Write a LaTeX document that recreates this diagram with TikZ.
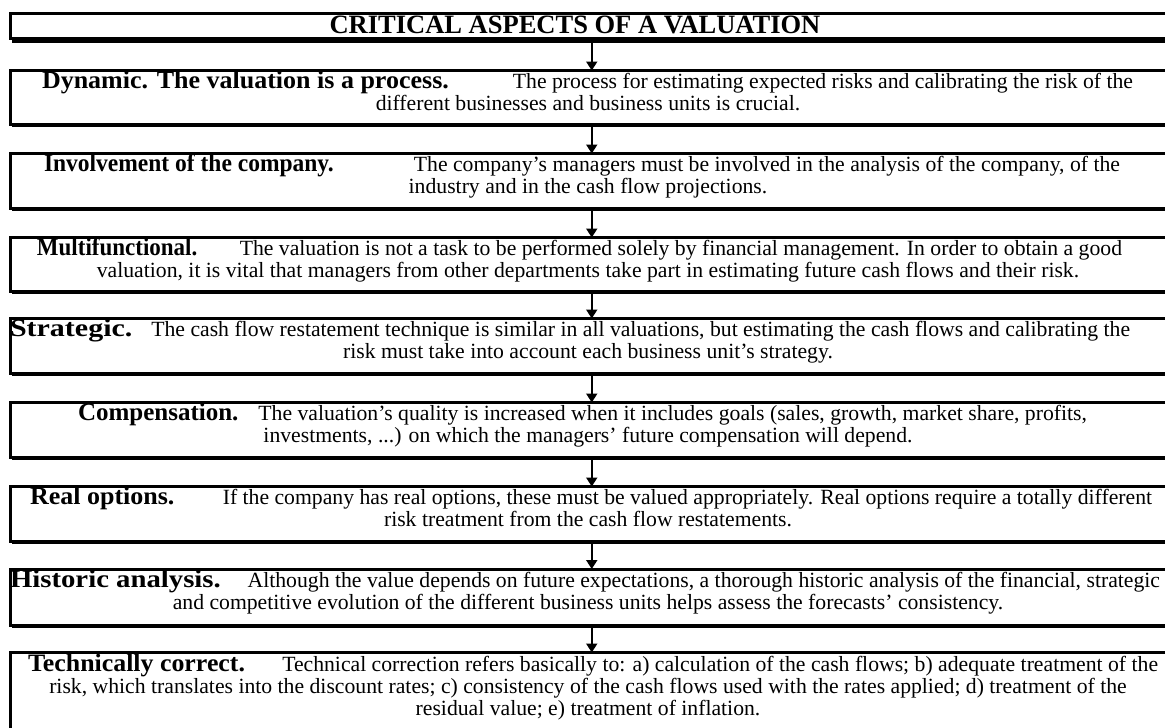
\documentclass[tikz,border=0pt]{standalone}
\usepackage{fontspec}
\usepackage{graphicx}
\setmainfont{Liberation Serif}
\usetikzlibrary{arrows.meta,shadows}
\newcommand\hd[2]{\scalebox{#1}[1]{\fontsize{25}{22}\selectfont\bfseries #2}}
\newcommand\lineone[5]{\makebox[1140pt][l]{\rule{0pt}{19pt}\hspace{#1}\hd{#2}{#3}\hfill #4\hspace{#5}}}
\begin{document}
\begin{tikzpicture}[x=1pt,y=-1pt,
  box/.style={draw, line width=3pt, fill=white, outer sep=0pt, minimum width=1162.5pt,
    anchor=north west, inner sep=0pt,
    general shadow={fill=black, shadow xshift=1.5pt, shadow yshift=-2.5pt}},
  titlebox/.style={box, general shadow={fill=black, shadow xshift=1.5pt, shadow yshift=-4.5pt}},
  txt/.style={anchor=north, inner sep=0pt, align=center, font=\fontsize{21.7}{22}\selectfont},
  conn/.style={line width=2pt, -{Triangle[width=11pt,length=9pt]}}
]
\useasboundingbox (0,0) rectangle (1165,728);
\clip (0,0) rectangle (1165,728);

\node[titlebox, minimum height=25pt] (b0) at (10.5,13.5) {};
\node[box, minimum height=54pt] (b1) at (10.5,70.5) {};
\node[box, minimum height=55pt] (b2) at (10.5,153.5) {};
\node[box, minimum height=53.5pt] (b3) at (10.5,237.5) {};
\node[box, minimum height=54.5pt] (b4) at (10.5,318.5) {};
\node[box, minimum height=54.5pt] (b5) at (10.5,402.5) {};
\node[box, minimum height=54.5pt] (b6) at (10.5,486.5) {};
\node[box, minimum height=56pt] (b7) at (10.5,569) {};
\node[box, minimum height=90pt] (b8) at (10.5,652.5) {};

\node[anchor=base, inner sep=0pt, font=\fontsize{26.5}{30}\selectfont\bfseries] (t0) at (575,33) {CRITICAL ASPECTS OF A VALUATION};

\node[txt] (t1) at (588,69.5) {\lineone{24pt}{1.04}{Dynamic. The valuation is a process.}{The process for estimating expected risks and calibrating the risk of the}{25pt}\\different businesses and business units is crucial.};
\node[txt] (t2) at (588,152.5) {\lineone{26pt}{0.94}{Involvement of the company.}{The company’s managers must be involved in the analysis of the company, of the}{38pt}\\industry and in the cash flow projections.};
\node[txt] (t3) at (588,236.5) {\lineone{19pt}{0.92}{Multifunctional.}{The valuation is not a task to be performed solely by financial management. In order to obtain a good}{36pt}\\valuation, it is vital that managers from other departments take part in estimating future cash flows and their risk.};
\node[txt] (t4) at (588,317.5) {\lineone{-8pt}{1.2}{Strategic.}{The cash flow restatement technique is similar in all valuations, but estimating the cash flows and calibrating the}{28pt}\\risk must take into account each business unit’s strategy.};
\node[txt] (t5) at (588,401.5) {\lineone{60pt}{1.0}{Compensation.}{The valuation’s quality is increased when it includes goals (sales, growth, market share, profits,}{71pt}\\investments, ...) on which the managers’ future compensation will depend.};
\node[txt] (t6) at (588,485.5) {\lineone{12pt}{1.04}{Real options.}{If the company has real options, these must be valued appropriately. Real options require a totally different}{6pt}\\risk treatment from the cash flow restatements.};
\node[txt] (t7) at (588,568.5) {\lineone{-8pt}{1.15}{Historic analysis.}{Although the value depends on future expectations, a thorough historic analysis of the financial, strategic}{-2pt}\\and competitive evolution of the different business units helps assess the forecasts’ consistency.};
\node[txt] (t8) at (588,652) {\lineone{10pt}{1.035}{Technically correct.}{Technical correction refers basically to: a) calculation of the cash flows; b) adequate treatment of the}{0pt}\\risk, which translates into the discount rates; c) consistency of the cash flows used with the rates applied; d) treatment of the\\residual value; e) treatment of inflation.};

\draw[conn] (b0.south) -- (b1.north);
\draw[conn] (b1.south) -- (b2.north);
\draw[conn] (b2.south) -- (b3.north);
\draw[conn] (b3.south) -- (b4.north);
\draw[conn] (b4.south) -- (b5.north);
\draw[conn] (b5.south) -- (b6.north);
\draw[conn] (b6.south) -- (b7.north);
\draw[conn] (b7.south) -- (b8.north);
\end{tikzpicture}
\end{document}
